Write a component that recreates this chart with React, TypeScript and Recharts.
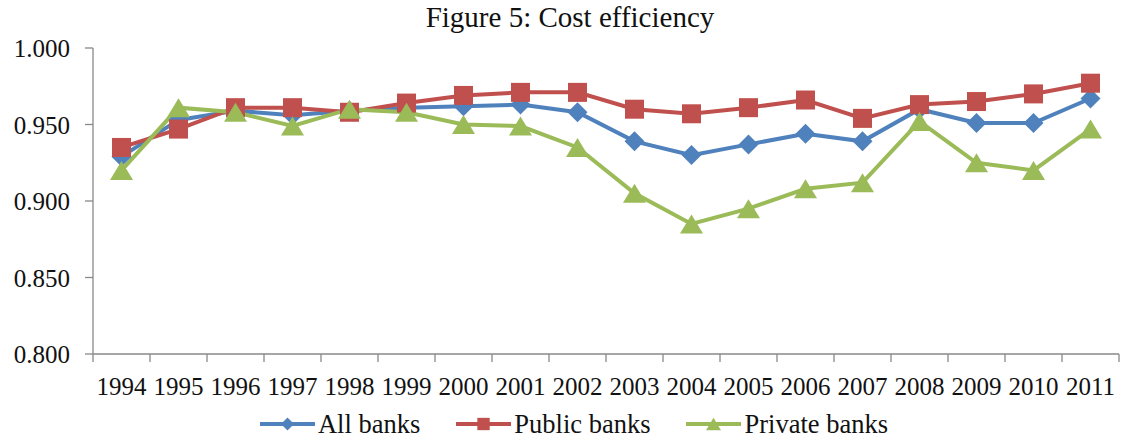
import { LineChart, Line, XAxis, YAxis, Legend } from "recharts";

const years = ["1994", "1995", "1996", "1997", "1998", "1999", "2000", "2001", "2002",
    "2003", "2004", "2005", "2006", "2007", "2008", "2009", "2010", "2011"];

const allBanks = [0.929, 0.953, 0.959, 0.956, 0.959, 0.961, 0.962, 0.963, 0.958,
    0.939, 0.930, 0.937, 0.944, 0.939, 0.960, 0.951, 0.951, 0.967];
const publicBanks = [0.935, 0.947, 0.961, 0.961, 0.958, 0.964, 0.969, 0.971, 0.971,
    0.960, 0.957, 0.961, 0.966, 0.954, 0.963, 0.965, 0.970, 0.977];
const privateBanks = [0.920, 0.961, 0.958, 0.949, 0.960, 0.958, 0.950, 0.949, 0.935,
    0.905, 0.885, 0.895, 0.908, 0.912, 0.952, 0.925, 0.920, 0.947];

const yTicks = [0.8, 0.85, 0.9, 0.95, 1.0];

const chartData = years.map((year, i) => ({
    year,
    all: allBanks[i],
    pub: publicBanks[i],
    priv: privateBanks[i]
}));

const FONT = "'Liberation Serif', 'Times New Roman', serif";
const AXIS_GRAY = "#898989";
const WIDTH = 1122;
const HEIGHT = 441;
const PLOT_LEFT = 93;
const PLOT_RIGHT = 1119;
const BAND = (PLOT_RIGHT - PLOT_LEFT) / years.length;

const tickText = { fontFamily: FONT, fontSize: 25, fill: "#111" };

type Shape = "diamond" | "square" | "triangle";

const series: { key: string; name: string; color: string; shape: Shape }[] = [
    { key: "all", name: "All banks", color: "#4F81BD", shape: "diamond" },
    { key: "pub", name: "Public banks", color: "#C0504D", shape: "square" },
    { key: "priv", name: "Private banks", color: "#9BBB59", shape: "triangle" }
];

// marker glyph centred on (cx, cy), scaled by s
function marker(shape: Shape, cx: number, cy: number, color: string, s: number, key?: string) {
    if (shape === "diamond") {
        const r = 10 * s;
        return <polygon key={key} points={`${cx},${cy - r} ${cx + r},${cy} ${cx},${cy + r} ${cx - r},${cy}`} fill={color} />;
    }
    if (shape === "square") {
        const h = 9.5 * s;
        return <rect key={key} x={cx - h} y={cy - h} width={h * 2} height={h * 2} fill={color} />;
    }
    const w = 11.5 * s;
    const h = 9.5 * s;
    return <polygon key={key} points={`${cx},${cy - h} ${cx + w},${cy + h} ${cx - w},${cy + h}`} fill={color} />;
}

function makeDot(shape: Shape, color: string) {
    return (props: any) => {
        const { cx, cy, index } = props;
        if (cx == null || cy == null) return <g key={`d-${index}`} />;
        return marker(shape, cx, cy, color, 1, `d-${shape}-${index}`);
    };
}

// year label in the middle of its band, tick marks on the band edges
function YearTick(props: any) {
    const { x, y, payload, index } = props;
    const left = x - BAND / 2;
    return (
        <g>
            <line x1={left} y1={y} x2={left} y2={y + 8} stroke={AXIS_GRAY} strokeWidth={1.3} />
            {index === years.length - 1 && (
                <line x1={left + BAND} y1={y} x2={left + BAND} y2={y + 8} stroke={AXIS_GRAY} strokeWidth={1.3} />
            )}
            <text x={x} y={y + 41} textAnchor="middle" style={tickText}>
                {payload.value}
            </text>
        </g>
    );
}

function ValueTick(props: any) {
    const { x, y, payload } = props;
    return (
        <text x={x} y={y + 9} textAnchor="end" style={tickText}>
            {Number(payload.value).toFixed(3)}
        </text>
    );
}

function LegendRow() {
    return (
        <div style={{ display: "flex", justifyContent: "center", alignItems: "center", paddingLeft: 26, fontFamily: FONT, fontSize: 26.5, color: "#111" }}>
            {series.map((s, i) => (
                <div key={s.key} style={{ display: "flex", alignItems: "center", marginLeft: i === 0 ? 0 : 36 }}>
                    <svg width={55} height={24}>
                        <line x1={0} y1={12} x2={55} y2={12} stroke={s.color} strokeWidth={4} strokeLinecap="round" />
                        {marker(s.shape, 27.5, 12, s.color, 0.65)}
                    </svg>
                    <span style={{ marginLeft: 3, lineHeight: "30px" }}>{s.name}</span>
                </div>
            ))}
        </div>
    );
}

export default function App() {
    return (
        <div style={{ position: "absolute", left: 0, top: 0, width: WIDTH, height: HEIGHT, background: "#fff", fontFamily: FONT }}>
            <div style={{ position: "absolute", left: 0, top: 1, width: 1140, textAlign: "center", fontSize: 29, color: "#111", lineHeight: "33px" }}>
                Figure 5: Cost efficiency
            </div>
            <LineChart width={WIDTH} height={HEIGHT} data={chartData}
                style={{ fontFamily: FONT }}
                margin={{ top: 48, right: WIDTH - PLOT_RIGHT, left: 0, bottom: 0 }}>
                <XAxis dataKey="year" scale="band" interval={0}
                    axisLine={{ stroke: AXIS_GRAY, strokeWidth: 1.3 }}
                    tickLine={false} tickSize={0} tickMargin={0}
                    tick={<YearTick />}
                    height={52} />
                <YAxis domain={[0.8, 1.0]} ticks={yTicks} width={PLOT_LEFT}
                    axisLine={{ stroke: AXIS_GRAY, strokeWidth: 1.3 }}
                    tickLine={{ stroke: AXIS_GRAY, strokeWidth: 1.3 }}
                    tickSize={8} tickMargin={15}
                    tick={<ValueTick />} />
                <Legend verticalAlign="bottom" content={<LegendRow />}
                    wrapperStyle={{ height: 35, left: 0, width: WIDTH, bottom: -3 }} />
                {series.map((s) => (
                    <Line key={s.key} dataKey={s.key} name={s.name} stroke={s.color} strokeWidth={4}
                        dot={makeDot(s.shape, s.color)} activeDot={false} isAnimationActive={false} />
                ))}
            </LineChart>
        </div>
    );
}
